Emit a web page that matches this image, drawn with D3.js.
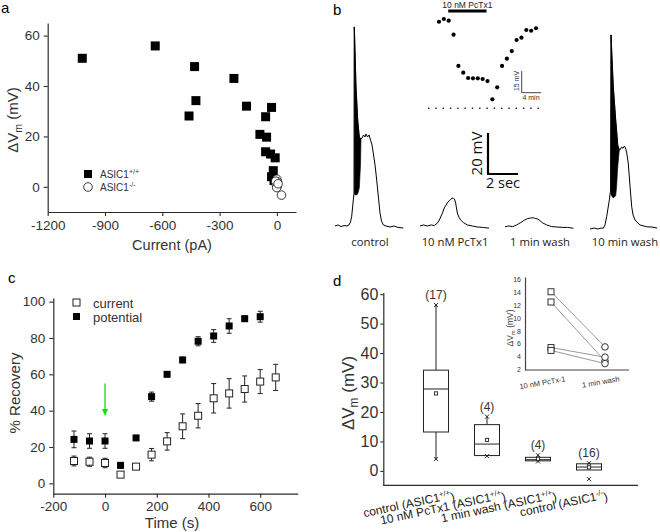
<!DOCTYPE html>
<html><head><meta charset="utf-8">
<script src="https://cdn.jsdelivr.net/npm/d3@7"></script>
<style>body{margin:0;background:#fff}svg{display:block}</style>
</head><body>
<svg id="c" width="660" height="532"></svg>
<script>
// ---------------- DATA ----------------
// Panel a: ΔVm vs current
const aXTicks = [-1200, -900, -600, -300, 0];
const aYTicks = [0, 20, 40, 60];
const aWT = [[-1019,51],[-637,55.9],[-431,47.7],[-424,34.2],[-460,28.1],[-225,43],[-159,32],[-28,31.5],[-59,27.8],[-89,20.8],[-54,19.7],[-59,13.9],[-33,13],[-9,11.5],[-19,6.4],[-28,4],[-15,2.5]];
const aKO = [[0,3],[3,2],[-4,1],[2,0.3],[-1,-0.3],[24,-3.3],[-6,2.2],[6,1.2]];

// Panel b: traces (time s, mV)
const bConds = ["control", "10 nM PcTx1", "1 min wash", "10 min wash"];
const bControl = [[0,0.5],[0.2,1],[0.4,0.2],[0.6,0.7],[0.8,0.5],[0.93,1],[1.03,2.4],[1.11,5],[1.22,13.2],[1.27,16.6],[1.287,97.6],[1.333,86.3],[1.4,68.3],[1.513,52.2],[1.62,43.9],[1.733,42.9],[1.8,43.4],[1.9,44.9],[2.0,43.9],[2.07,45.4],[2.17,43.9],[2.27,44.9],[2.37,42.4],[2.47,40],[2.55,36.1],[2.67,30.2],[2.78,22.9],[2.9,14.1],[3.0,6.8],[3.1,2.9],[3.22,1],[3.4,0.5],[3.67,0],[3.93,0.5],[4.2,-0.2],[4.55,-0.5]];
const bControlBand = [[1.287,97.6,16.6],[1.333,86.3,15.6],[1.4,68.3,15.6],[1.513,52.2,16.1],[1.62,43.9,19],[1.7,43.2,30.2],[1.733,42.9,42.9]];
const bPcTx = [[0,0.5],[0.22,1],[0.49,0.5],[0.75,1],[0.95,0.7],[1.15,1.8],[1.29,3.4],[1.49,6.7],[1.62,9.3],[1.82,11.7],[1.95,12.9],[2.02,13.2],[2.12,14.1],[2.22,14],[2.29,13.7],[2.38,11.7],[2.42,9.8],[2.49,6.8],[2.59,4.9],[2.71,3.4],[2.89,2.2],[3.15,1],[3.49,0.5],[3.82,0],[4.22,-0.2],[4.6,-0.6]];
const bWash1 = [[0,0.1],[0.25,0.5],[0.51,0.2],[0.78,1],[1.05,2.2],[1.31,3.4],[1.51,4.1],[1.71,4.4],[1.89,4.5],[2.05,4.1],[2.18,3.9],[2.33,3.1],[2.51,2],[2.78,1],[3.11,0.2],[3.45,0],[3.85,-0.2],[4.18,-0.2],[4.56,-0.6]];
const bWash10 = [[0,-1],[0.27,-0.5],[0.53,-1],[0.73,-0.5],[0.89,-0.6],[1.0,1],[1.11,5],[1.29,13.2],[1.37,18],[1.4,93.7],[1.553,68.4],[1.713,52.2],[1.847,40],[1.953,37.6],[2.0,37.6],[2.1,39],[2.2,38.4],[2.3,39.5],[2.4,37.6],[2.45,36.1],[2.55,31.2],[2.67,19.7],[2.78,9.9],[2.87,5.9],[3.0,3.4],[3.33,1],[3.78,0.1],[4.13,0],[4.47,-0.5]];
const bWash10Band = [[1.4,93.7,15.6],[1.553,68.4,14.1],[1.713,52.2,15.3],[1.767,48,19],[1.847,40,29],[1.953,37.6,37.6]];
// Panel b inset: ΔVm every minute (mV above dotted baseline)
const bInsetMin = [0,1,2,3,4,5,6,7,8,9,10,11,12,13,14,15,16,17,18,19,20];
const bInsetMv = [59.7,61.6,60.4,50.8,29.2,24.6,20.9,20.7,20.7,20.2,18.8,6.2,14.5,29.2,34.2,39.5,47.1,48.7,54,53.5,55.2];
const bDrugWindow = [1.9, 9.8];

// Panel c: % recovery
const cXTicks = [-200, 0, 200, 400, 600];
const cYTicks = [0, 20, 40, 60, 80, 100];
const cCurT = [-120,-60,0,60,120,180,240,300,360,420,480,540,600,660];
const cCurV = [12.3,11.9,11.2,4.8,9.2,15.8,23.1,31.4,37.2,46.8,49.5,51.9,56,58.3];
const cCurE = [2.7,2.5,2.6,0.8,1.2,3.4,4.8,6.8,6.7,8.1,8.1,7.2,6.6,7.2];
const cPotT = [-120,-60,0,60,120,180,240,300,360,420,480,540,600];
const cPotV = [24.2,23.3,23.3,9.9,25,47.7,60,67.9,78.2,81.1,86.6,90.6,91.7];
const cPotE = [4.6,4,4,1.5,1,2.5,1,1.5,2.5,3.5,4,1.5,3];
const cArrow = [0, 55, 37];

// Panel d: box plot
const dYTicks = [0, 10, 20, 30, 40, 50, 60];
const dCatNames = ["control (ASIC1", "10 nM PcTx1 (ASIC1", "1 min wash (ASIC1", "control (ASIC1"];
const dCatSup = ["+/+", "+/+", "+/+", "-/-"];
const dQ1 = [13.2, 5.2, 3.4, 0.3];
const dMedian = [27.8, 9.1, 3.8, 1.3];
const dQ3 = [34.2, 15.7, 4.6, 2.4];
const dWhiskLo = [4, 5.2, 3.4, 0.3];
const dWhiskHi = [56.3, 18.4, 5.3, 2.6];
const dMean = [26.3, 10.5, 4.1, 1.2];
const dMin = [4, 5, 3.2, -2.8];
const dMax = [56.3, 18.4, 5.3, 2.6];
const dN = [17, 4, 4, 16];
// Panel d inset: paired values
const diCats = ["10 nM PcTx-1", "1 min wash"];
const diYTicks = [2, 4, 6, 8, 10, 12, 14, 16];
const diPcTx = [14.1, 12.5, 5.4, 4.95];
const diWash = [5.5, 3.3, 3.9, 2.9];

// ---------------- DRAW ----------------
const svg = d3.select("#c");
const F = "'Liberation Sans', Arial, sans-serif";
const FB = "'Open Sans', 'Noto Sans', sans-serif";
const INK = "#2b2b2b";
const fmt = d => String(d);

function styleAxis(g, fs, col) {
  col = col || INK;
  g.select(".domain").attr("stroke", col).attr("stroke-width", 1.2);
  g.selectAll(".tick line").attr("stroke", col).attr("stroke-width", 1.1);
  g.selectAll(".tick text").attr("font-family", F).attr("font-size", fs).attr("fill", "#333");
  g.attr("font-size", null).attr("font-family", null);
}
function panelLabel(t, x, y) {
  svg.append("text").attr("x", x).attr("y", y).text(t)
    .attr("font-family", F).attr("font-size", 15).attr("fill", "#000");
}
function dvmLabel(g, x, y, fs, col) {
  const t = g.append("text").attr("transform", `translate(${x},${y}) rotate(-90)`)
    .attr("text-anchor", "middle").attr("font-family", F).attr("font-size", fs).attr("fill", col || "#333");
  t.append("tspan").text("ΔV");
  t.append("tspan").text("m").attr("font-size", fs * 0.7).attr("dy", fs * 0.25);
  t.append("tspan").text(" (mV)").attr("dy", -fs * 0.25);
  return t;
}

// ===== Panel a =====
panelLabel("a", 1, 13);
const ax = d3.scaleLinear().domain([-1200, 100]).range([47.7, 296]);
const ay = d3.scaleLinear().domain([-10, 65]).range([212, 23]);
const gA = svg.append("g");
gA.append("g").attr("transform", "translate(0,212)")
  .call(d3.axisBottom(ax).tickValues(aXTicks).tickFormat(fmt).tickSize(4).tickSizeOuter(0).tickPadding(4))
  .call(g => styleAxis(g, 13.5));
gA.append("g").attr("transform", "translate(47.7,0)")
  .call(d3.axisLeft(ay).tickValues(aYTicks).tickFormat(fmt).tickSize(4).tickSizeOuter(0).tickPadding(4))
  .call(g => styleAxis(g, 13.5));
gA.append("text").attr("x", 172).attr("y", 250).attr("text-anchor", "middle")
  .attr("font-family", F).attr("font-size", 14.5).attr("fill", "#333").text("Current (pA)");
dvmLabel(gA, 18, 120, 15);
const sqA = 9;
gA.selectAll("rect.wt").data(aWT).enter().append("rect")
  .attr("x", d => ax(d[0]) - sqA / 2).attr("y", d => ay(d[1]) - sqA / 2)
  .attr("width", sqA).attr("height", sqA).attr("fill", "#000");
gA.selectAll("circle.ko").data(aKO).enter().append("circle")
  .attr("cx", d => ax(d[0])).attr("cy", d => ay(d[1])).attr("r", 4.3)
  .attr("fill", "#fff").attr("stroke", "#222").attr("stroke-width", 0.9);
// legend
gA.append("rect").attr("x", 84).attr("y", 170).attr("width", 8).attr("height", 8).attr("fill", "#000");
gA.append("circle").attr("cx", 88).attr("cy", 187).attr("r", 4.3).attr("fill", "#fff").attr("stroke", "#222").attr("stroke-width", 0.9);
[["+/+", 178], ["-/-", 191]].forEach(([s, y]) => {
  const t = gA.append("text").attr("x", 100).attr("y", y).attr("font-family", F).attr("font-size", 10).attr("fill", "#333");
  t.append("tspan").text("ASIC1");
  t.append("tspan").text(s).attr("font-size", 7).attr("dy", -4);
});

// ===== Panel b =====
panelLabel("b", 333, 15);
const bBand = d3.scaleBand().domain(bConds).range([335, 675]);
const bt = d3.scaleLinear().domain([0, 1]).range([0, 15]);
const bv = d3.scaleLinear().domain([0, 1]).range([227, 227 - 2.05]);
const gB = svg.append("g");
const traces = [bControl, bPcTx, bWash1, bWash10];
const bands = [bControlBand, null, null, bWash10Band];
traces.forEach((tr, i) => {
  const x0 = bBand(bConds[i]);
  const line = d3.line().x(d => x0 + bt(d[0])).y(d => bv(d[1]));
  if (bands[i]) {
    const area = d3.area().x(d => x0 + bt(d[0])).y0(d => bv(d[2])).y1(d => bv(d[1]));
    gB.append("path").attr("d", area(bands[i])).attr("fill", "#000").attr("stroke", "#000").attr("stroke-width", 0.6);
  }
  gB.append("path").attr("d", line(tr)).attr("fill", "none").attr("stroke", "#000").attr("stroke-width", 1);
  gB.append("text").attr("x", x0 + 35).attr("y", 246).attr("text-anchor", "middle")
    .attr("font-family", FB).attr("font-size", 11.3).attr("fill", "#222").text(bConds[i]);
});
// scale bar 20 mV / 2 sec
const sbX = 488, sbY = 174;
gB.append("path").attr("d", `M${sbX},${sbY - (bv(0) - bv(20))}V${sbY}H${sbX + bt(2)}`)
  .attr("fill", "none").attr("stroke", "#000").attr("stroke-width", 2.2);
gB.append("text").attr("transform", `translate(482,153.5) rotate(-90)`).attr("text-anchor", "middle")
  .attr("font-family", FB).attr("font-size", 15).attr("fill", "#111").text("20 mV");
gB.append("text").attr("x", 503).attr("y", 188).attr("text-anchor", "middle")
  .attr("font-family", FB).attr("font-size", 14.5).attr("fill", "#111").text("2 sec");
// inset
const bix = d3.scaleLinear().domain([0, 1]).range([439, 439 + 4.85]);
const biy = d3.scaleLinear().domain([0, 1]).range([108.3, 108.3 - 1.45]);
gB.append("line").attr("x1", 428).attr("x2", 544).attr("y1", biy(0)).attr("y2", biy(0))
  .attr("stroke", "#222").attr("stroke-width", 1.4).attr("stroke-dasharray", "1.4,5.9");
gB.selectAll("circle.in").data(bInsetMin).enter().append("circle")
  .attr("cx", d => bix(d)).attr("cy", (d, i) => biy(bInsetMv[i])).attr("r", 2.1).attr("fill", "#000");
gB.append("line").attr("x1", bix(bDrugWindow[0])).attr("x2", bix(bDrugWindow[1])).attr("y1", 11).attr("y2", 11)
  .attr("stroke", "#000").attr("stroke-width", 3);
gB.append("text").attr("x", (bix(bDrugWindow[0]) + bix(bDrugWindow[1])) / 2).attr("y", 7.5).attr("text-anchor", "middle")
  .attr("font-family", F).attr("font-size", 8.5).attr("fill", "#222").text("10 nM PcTx1");
const isx = 521.7, isy = 92.7;
gB.append("path").attr("d", `M${isx},${isy - (biy(0) - biy(15))}V${isy}H${isx + (bix(4) - bix(0))}`)
  .attr("fill", "none").attr("stroke", "#444").attr("stroke-width", 1);
gB.append("text").attr("transform", `translate(518.5,81) rotate(-90)`).attr("text-anchor", "middle")
  .attr("font-family", F).attr("font-size", 7).attr("fill", "#333").text("15 mV");
gB.append("text").attr("x", 531).attr("y", 100).attr("text-anchor", "middle")
  .attr("font-family", F).attr("font-size", 7).attr("fill", "#333").text("4 min");

// ===== Panel c =====
panelLabel("c", 8, 283);
const cx = d3.scaleLinear().domain([-200, 745]).range([53.3, 297.7]);
const cy = d3.scaleLinear().domain([-5.7, 102]).range([493.7, 298]);
const gC = svg.append("g");
gC.append("g").attr("transform", "translate(0,493.7)")
  .call(d3.axisBottom(cx).tickValues(cXTicks).tickFormat(fmt).tickSize(4).tickSizeOuter(0).tickPadding(4))
  .call(g => styleAxis(g, 13.5));
gC.append("g").attr("transform", "translate(53.3,0)")
  .call(d3.axisLeft(cy).tickValues(cYTicks).tickFormat(fmt).tickSize(4).tickSizeOuter(0).tickPadding(4))
  .call(g => styleAxis(g, 13.5));
gC.append("text").attr("x", 172).attr("y", 528).attr("text-anchor", "middle")
  .attr("font-family", F).attr("font-size", 15).attr("fill", "#333").text("Time (s)");
gC.append("text").attr("transform", "translate(20,393) rotate(-90)").attr("text-anchor", "middle")
  .attr("font-family", F).attr("font-size", 15).attr("fill", "#333").text("% Recovery");
function errBars(T, V, E) {
  T.forEach((t, i) => {
    const x = cx(t), y1 = cy(V[i] + E[i]), y2 = cy(V[i] - E[i]);
    gC.append("path").attr("d", `M${x},${y1}V${y2}M${x - 2.5},${y1}H${x + 2.5}M${x - 2.5},${y2}H${x + 2.5}`)
      .attr("stroke", "#222").attr("stroke-width", 1).attr("fill", "none");
  });
}
errBars(cCurT, cCurV, cCurE);
errBars(cPotT, cPotV, cPotE);
const sqC = 7;
gC.selectAll("rect.cur").data(cCurT).enter().append("rect")
  .attr("x", d => cx(d) - sqC / 2).attr("y", (d, i) => cy(cCurV[i]) - sqC / 2)
  .attr("width", sqC).attr("height", sqC).attr("fill", "#fff").attr("stroke", "#222").attr("stroke-width", 1);
gC.selectAll("rect.pot").data(cPotT).enter().append("rect")
  .attr("x", d => cx(d) - sqC / 2).attr("y", (d, i) => cy(cPotV[i]) - sqC / 2)
  .attr("width", sqC).attr("height", sqC).attr("fill", "#000");
// arrow
gC.append("line").attr("x1", cx(cArrow[0])).attr("x2", cx(cArrow[0])).attr("y1", cy(cArrow[1])).attr("y2", cy(cArrow[2]) - 5)
  .attr("stroke", "#11e011").attr("stroke-width", 1.3);
gC.append("path").attr("d", `M${cx(cArrow[0]) - 3},${cy(cArrow[2]) - 7}L${cx(cArrow[0]) + 3},${cy(cArrow[2]) - 7}L${cx(cArrow[0])},${cy(cArrow[2])}Z`)
  .attr("fill", "#11e011");
// legend
gC.append("rect").attr("x", 73).attr("y", 299).attr("width", sqC).attr("height", sqC).attr("fill", "#fff").attr("stroke", "#222");
gC.append("rect").attr("x", 73).attr("y", 313).attr("width", sqC).attr("height", sqC).attr("fill", "#000");
gC.append("text").attr("x", 93).attr("y", 307.5).attr("font-family", F).attr("font-size", 13).attr("fill", "#333").text("current");
gC.append("text").attr("x", 93).attr("y", 321.5).attr("font-family", F).attr("font-size", 13).attr("fill", "#333").text("potential");

// ===== Panel d =====
panelLabel("d", 333, 286);
const dAxisX = 383.3;
const dy = d3.scaleLinear().domain([-4.9, 60.6]).range([485.3, 292.4]);
const dx = d3.scalePoint().domain(d3.range(4)).range([436, 589]);
const gD = svg.append("g");
gD.append("g").attr("transform", `translate(${dAxisX},0)`)
  .call(d3.axisLeft(dy).tickValues(dYTicks).tickFormat(fmt).tickSize(3).tickSizeOuter(0).tickPadding(2))
  .call(g => styleAxis(g, 16));
gD.append("line").attr("x1", dAxisX).attr("x2", 638).attr("y1", 485.3).attr("y2", 485.3).attr("stroke", INK).attr("stroke-width", 1.2);
dvmLabel(gD, 354, 393, 17);
const bw = 25;
d3.range(4).forEach(i => {
  const x = dx(i);
  const g = gD.append("g");
  g.append("path").attr("d", `M${x},${dy(dWhiskHi[i])}V${dy(dQ3[i])}M${x},${dy(dQ1[i])}V${dy(dWhiskLo[i])}`)
    .attr("stroke", "#222").attr("stroke-width", 1);
  g.append("rect").attr("x", x - bw / 2).attr("y", dy(dQ3[i])).attr("width", bw).attr("height", dy(dQ1[i]) - dy(dQ3[i]))
    .attr("fill", "#fff").attr("stroke", "#222").attr("stroke-width", 1);
  g.append("line").attr("x1", x - bw / 2).attr("x2", x + bw / 2).attr("y1", dy(dMedian[i])).attr("y2", dy(dMedian[i]))
    .attr("stroke", "#222").attr("stroke-width", 1);
  g.append("rect").attr("x", x - 1.6).attr("y", dy(dMean[i]) - 1.6).attr("width", 3.2).attr("height", 3.2)
    .attr("fill", "#fff").attr("stroke", "#222").attr("stroke-width", 0.9);
  [dMin[i], dMax[i]].forEach(v => {
    const yy = dy(v);
    g.append("path").attr("d", `M${x - 2},${yy - 2}L${x + 2},${yy + 2}M${x + 2},${yy - 2}L${x - 2},${yy + 2}`)
      .attr("stroke", "#222").attr("stroke-width", 1);
  });
  g.append("text").attr("x", x).attr("y", dy(dMax[i]) - 6).attr("text-anchor", "middle")
    .attr("font-family", F).attr("font-size", 12).attr("fill", "#333").text(`(${dN[i]})`);
  const t = g.append("text").attr("transform", `translate(${x + 19},${498}) rotate(-12)`).attr("text-anchor", "end")
    .attr("font-family", F).attr("font-size", 12).attr("fill", "#222");
  t.append("tspan").text(dCatNames[i]);
  t.append("tspan").text(dCatSup[i]).attr("font-size", 7.5).attr("dy", "-0.55em");
  t.append("tspan").text(")").attr("dy", "0.55em");
});
// inset
const dix = d3.scalePoint().domain(diCats).range([551, 605]);
const diy = d3.scaleLinear().domain([1.9, 16.4]).range([370, 277]);
const gI = gD.append("g");
gI.append("g").attr("transform", "translate(525,0)")
  .call(d3.axisLeft(diy).tickValues(diYTicks).tickFormat(fmt).tickSize(0).tickSizeOuter(0).tickPadding(4))
  .call(g => styleAxis(g, 7, "#444"));
gI.append("line").attr("x1", 525).attr("x2", 629).attr("y1", 370).attr("y2", 370).attr("stroke", "#444").attr("stroke-width", 1.1);
diCats.forEach(c => {
  gI.append("text").attr("transform", `translate(${dix(c) + 14},${376}) rotate(-10)`).attr("text-anchor", "end")
    .attr("dy", "0.7em").attr("font-family", F).attr("font-size", 7.5).attr("fill", "#333").text(c);
});
dvmLabel(gI, 513, 328, 8.5, "#333");
diPcTx.forEach((v, i) => {
  gI.append("line").attr("x1", dix(diCats[0])).attr("x2", dix(diCats[1])).attr("y1", diy(v)).attr("y2", diy(diWash[i]))
    .attr("stroke", "#999").attr("stroke-width", 1);
});
gI.selectAll("rect.p").data(diPcTx).enter().append("rect")
  .attr("x", dix(diCats[0]) - 3).attr("y", d => diy(d) - 3).attr("width", 6).attr("height", 6)
  .attr("fill", "#fff").attr("stroke", "#333").attr("stroke-width", 1);
gI.selectAll("circle.w").data(diWash).enter().append("circle")
  .attr("cx", dix(diCats[1])).attr("cy", d => diy(d)).attr("r", 3.3)
  .attr("fill", "#fff").attr("stroke", "#333").attr("stroke-width", 1);
</script>
</body></html>
